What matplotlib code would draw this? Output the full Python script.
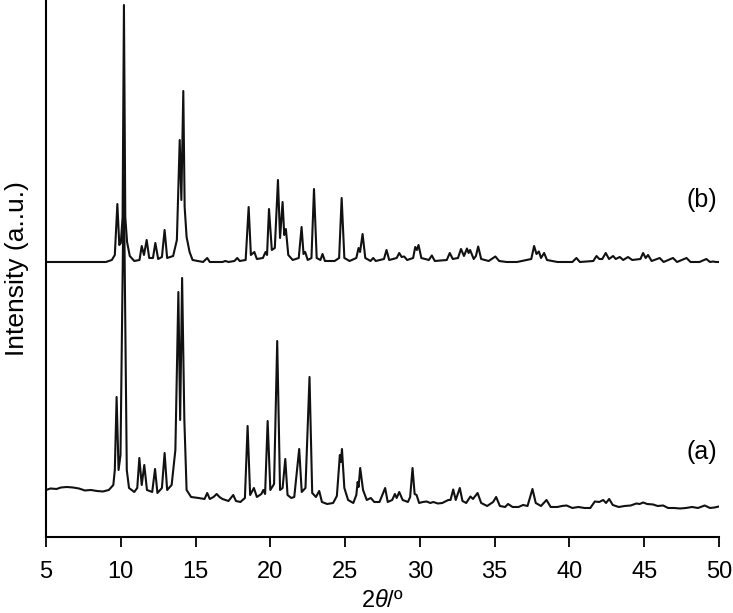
# XRD patterns (a) and (b), stacked with offset
import matplotlib.pyplot as plt

plt.rcParams['font.family'] = ['Liberation Sans', 'DejaVu Sans']
plt.rcParams['mathtext.fontset'] = 'custom'
plt.rcParams['mathtext.it'] = 'Liberation Sans:italic'

# pattern (b) - upper trace (offset included)
two_theta_b = [5.0, 9.0, 9.4, 9.6, 9.77, 9.9, 10.0, 10.12, 10.21, 10.3, 10.42, 10.6, 10.9,
               11.25, 11.40, 11.55, 11.73, 11.9, 12.15, 12.31, 12.5, 12.75, 12.93, 13.1,
               13.5, 13.75, 13.94, 14.05, 14.18, 14.27, 14.4, 14.6, 14.8, 15.5, 15.78, 15.95,
               16.8, 16.99, 17.2, 17.6, 17.79, 17.95, 18.35, 18.55, 18.7, 18.93, 19.1,
               19.5, 19.68, 19.78, 19.91, 20.1, 20.3, 20.51, 20.65, 20.82, 20.93, 21.04,
               21.2, 21.5, 21.9, 22.09, 22.22, 22.33, 22.5, 22.75, 22.92, 23.1, 23.35,
               23.49, 23.65, 24.3, 24.6, 24.77, 24.95, 25.3, 25.75, 25.90, 26.0, 26.17,
               26.35, 26.7, 26.88, 27.05, 27.6, 27.77, 27.95, 28.45, 28.62, 28.78, 28.95,
               29.15, 29.55, 29.69, 29.8, 29.91, 30.1, 30.6, 30.8, 31.0, 31.8, 32.0, 32.2,
               32.55, 32.75, 32.95, 33.15, 33.26, 33.36, 33.6, 33.75, 33.9, 34.1, 34.6,
               35.05, 35.3, 35.8, 36.5, 37.45, 37.64, 37.8, 37.96, 38.1, 38.31, 38.5, 39.2,
               40.2, 40.47, 40.7, 41.6, 41.81, 42.0, 42.2, 42.43, 42.65, 42.92, 43.1, 43.37,
               43.6, 43.92, 44.2, 44.75, 44.93, 45.1, 45.26, 45.5, 46.04, 46.3, 46.93, 47.2,
               47.83, 48.1, 48.7, 49.16, 49.4, 49.6, 49.8, 50.0]
intensity_b = [275, 275, 277, 282, 333, 292, 294, 320, 532, 320, 295, 281, 276,
               277, 291, 282, 297, 279, 279, 294, 278, 280, 307, 279,
               281, 297, 397, 337, 446, 330, 300, 285, 277, 275, 279, 275,
               275, 276, 275, 276, 279, 276, 277, 330, 282, 285, 278,
               279, 285, 282, 328, 287, 289, 357, 299, 335, 302, 308,
               282, 277, 279, 310, 283, 285, 277, 279, 348, 279, 277,
               283, 276, 276, 279, 339, 279, 276, 279, 289, 285, 303,
               279, 276, 279, 276, 278, 287, 277, 279, 284, 280, 280.5,
               277, 279, 290, 287, 292, 279, 277, 281.5, 276, 277, 284, 278,
               279, 288, 281, 288.5, 284, 287, 278, 281, 290.5, 278, 276,
               280.5, 276, 275, 275, 278, 291, 283, 285.5, 279, 284, 277, 275,
               275, 279, 275, 276, 281, 278, 278, 284, 278, 281, 278, 280,
               277, 280, 277, 278, 284, 279, 282, 276, 279, 275, 279, 275,
               279, 275, 275, 278, 275, 275.5, 275, 275]

# pattern (a) - lower trace
two_theta_a = [5.0, 5.3, 5.7, 6.0, 6.4, 6.8, 7.2, 7.6, 8.0, 8.4, 8.8, 9.2, 9.5, 9.6, 9.72,
               9.85, 9.98, 10.2, 10.4, 10.55, 10.9, 11.1, 11.24, 11.4, 11.57, 11.75, 12.1,
               12.29, 12.45, 12.75, 12.93, 13.1, 13.4, 13.65, 13.85, 13.97, 14.1, 14.25,
               14.4, 14.7, 15.2, 15.6, 15.78, 15.95, 16.2, 16.41, 16.6, 16.8, 17.2, 17.52,
               17.7, 18.0, 18.3, 18.48, 18.65, 18.9, 19.1, 19.4, 19.53, 19.65, 19.82, 20.0,
               20.25, 20.46, 20.65, 20.82, 21.0, 21.15, 21.4, 21.6, 21.93, 22.1, 22.35,
               22.62, 22.8, 23.05, 23.27, 23.45, 23.8, 24.2, 24.45, 24.65, 24.72, 24.79,
               24.95, 25.2, 25.55, 25.75, 25.84, 25.9, 26.01, 26.2, 26.45, 26.72, 26.95,
               27.3, 27.68, 27.85, 28.15, 28.33, 28.45, 28.62, 28.85, 29.2, 29.35, 29.51,
               29.65, 29.78, 29.95, 30.2, 30.45, 30.7, 30.9, 31.2, 31.5, 31.9, 32.05,
               32.23, 32.4, 32.67, 32.85, 33.1, 33.38, 33.55, 33.86, 34.1, 34.5, 34.9,
               35.1, 35.35, 35.7, 35.9, 36.2, 36.6, 36.9, 37.2, 37.53, 37.75, 38.1, 38.47,
               38.75, 39.2, 39.5, 39.81, 40.2, 40.6, 41.0, 41.4, 41.7, 42.0, 42.26, 42.45,
               42.66, 42.9, 43.3, 43.7, 44.1, 44.48, 44.7, 44.93, 45.2, 45.6, 45.9, 46.27,
               46.6, 47.0, 47.4, 47.8, 48.2, 48.6, 49.05, 49.4, 49.7, 50.0]
intensity_a = [47, 48.5, 48, 49.5, 50, 49.5, 48.5, 46.5, 47, 46, 45.5, 47, 52, 67, 140,
               67, 82, 362, 67, 49, 45, 49, 79, 52, 72, 47, 45,
               68, 44, 49, 84, 47, 52, 87, 245, 117, 259, 117,
               47, 40, 39, 38, 44, 38, 40, 43, 40, 38, 36, 42,
               36, 35, 39, 111, 42, 49, 40, 43, 47, 43, 116, 47,
               53, 196, 47, 49, 78, 42, 39, 40, 88, 45, 49,
               160, 44, 40, 46, 35, 33, 34, 41, 82, 75, 88,
               49, 37, 34, 42, 55, 50, 69, 47, 37, 39, 35,
               35, 49, 35, 37, 43, 39, 45, 37, 35, 40, 69,
               43, 42, 34, 35, 35.5, 34, 35, 33.5, 34, 37, 37,
               47.5, 37, 49, 36, 34, 40.5, 38, 44, 34, 31, 35,
               40, 31, 30, 33, 30, 30, 32, 31, 48, 34, 31, 37,
               30, 30, 31, 31.5, 29, 30, 29, 29, 35.5, 35, 37, 34,
               38, 32, 30, 31, 31.5, 33.5, 33, 34.5, 33, 32.5, 31, 31.5,
               29, 29, 28.5, 29, 30, 29, 31.5, 29, 29.5, 30.5]

x_ticks = [5, 10, 15, 20, 25, 30, 35, 40, 45, 50]

fig = plt.figure(figsize=(7.33, 6.13), dpi=100)
ax = fig.add_axes([0.0628, 0.124, 0.918, 0.876])

ax.plot(two_theta_b, intensity_b, color='#111111', linewidth=1.5)
ax.plot(two_theta_a, intensity_a, color='#111111', linewidth=1.5)

ax.text(49.9, 337, '(b)', ha='right', va='center', fontsize=18)
ax.text(49.9, 85, '(a)', ha='right', va='center', fontsize=18)

ax.set_xlim(5, 50)
ax.set_ylim(0, 537)
ax.set_xticks(x_ticks)
ax.set_yticks([])
ax.tick_params(axis='x', direction='out', length=7, width=1.3, labelsize=17, pad=10)
for s in ['top', 'right']:
    ax.spines[s].set_visible(False)
ax.spines['left'].set_linewidth(1.5)
ax.spines['bottom'].set_linewidth(1.5)

ax.set_xlabel(r'2$\it{\theta}$/º', fontsize=17, labelpad=5)
ax.set_ylabel('Intensity (a..u.)', fontsize=19, labelpad=12)

fig.savefig('out.png', dpi=100)
